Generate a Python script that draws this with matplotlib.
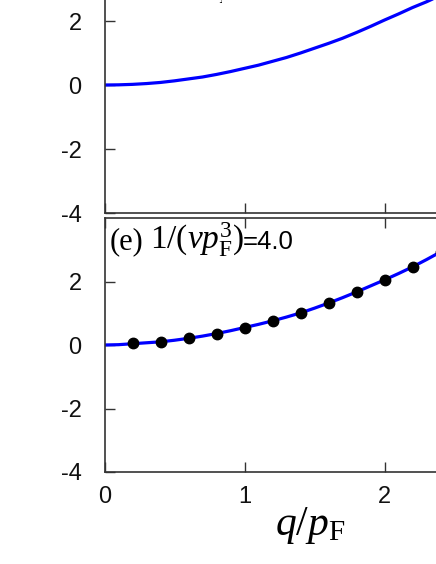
import matplotlib as mpl
mpl.use('Agg')
import matplotlib.pyplot as plt
from matplotlib.transforms import Bbox

mpl.rcParams['mathtext.fontset'] = 'custom'
mpl.rcParams['mathtext.rm'] = 'Liberation Serif'
mpl.rcParams['mathtext.it'] = 'Liberation Serif:italic'
mpl.rcParams['mathtext.sf'] = 'Liberation Sans'
mpl.rcParams['axes.unicode_minus'] = False

# curve q/p_F grid and values
q_line = [0.0, 0.1, 0.2, 0.3, 0.4, 0.5, 0.6, 0.7, 0.8, 0.9, 1.0, 1.1, 1.2,
          1.3, 1.4, 1.5, 1.6, 1.7, 1.8, 1.9, 2.0, 2.1, 2.2, 2.3, 2.4, 2.5]
top_line = [0.0, 0.005, 0.02, 0.045, 0.08, 0.13, 0.19, 0.25, 0.33, 0.42, 0.52,
            0.62, 0.74, 0.86, 1.0, 1.15, 1.30, 1.46, 1.64, 1.83, 2.03, 2.22,
            2.42, 2.60, 2.80, 3.0]
bot_line = [0.0, 0.01, 0.04, 0.07, 0.10, 0.15, 0.21, 0.28, 0.36, 0.45, 0.55,
            0.65, 0.76, 0.88, 1.01, 1.16, 1.32, 1.49, 1.67, 1.86, 2.05, 2.25,
            2.46, 2.69, 2.93, 3.17]

# points in panel (e)
q_pts = [0.2, 0.4, 0.6, 0.8, 1.0, 1.2, 1.4, 1.6, 1.8, 2.0, 2.2, 2.4]
e_pts = [0.05, 0.10, 0.21, 0.36, 0.55, 0.75, 1.00, 1.32, 1.66, 2.05, 2.45, 2.93]

yticks = [-4, -2, 0, 2]
xticks = [0, 1, 2]

W, H = 436, 564
fig = plt.figure(figsize=(W / 100, H / 100), dpi=100)

def px_axes(left, top, width, height):
    return fig.add_axes([left / W, 1 - (top + height) / H, width / W, height / H])

ax_top = px_axes(104.5, 213 - 256, 420, 256)
ax_bot = px_axes(104.5, 218, 420, 254)

for ax in (ax_top, ax_bot):
    ax.set_xlim(0, 3)
    ax.set_ylim(-4, 4)
    ax.set_xticks(xticks)
    ax.set_yticks(yticks)
    ax.tick_params(direction='in', top=True, right=True, length=7, width=1,
                   color='#333333', labelsize=17, labelcolor='#111111')
    ax.tick_params(axis='y', pad=16.5)
    ax.tick_params(axis='x', pad=10)
    for sp in ax.spines.values():
        sp.set_color('#333333')
        sp.set_linewidth(1.2)
    for lab in ax.get_xticklabels() + ax.get_yticklabels():
        lab.set_fontfamily('Liberation Sans')

ax_top.set_xticklabels([])
ax_top.plot(q_line, top_line, color='#0000ff', lw=2.3, solid_capstyle='round')
ax_bot.plot(q_line, bot_line, color='#0000ff', lw=2.3, solid_capstyle='round')
ax_bot.plot(q_pts, e_pts, 'o', color='black', ms=7.5)

def panel_label(ax, tag, val, yb):
    x0 = ax.get_position().x0 * W
    wid = ax.get_position().width * W
    fx = lambda px: (px - x0) / wid
    t1 = ax.text(fx(110), yb, tag, transform=ax.transAxes, fontsize=22,
                 family='Liberation Serif', va='baseline', ha='left')
    t2 = ax.text(fx(150), yb, r'$1/(v p_{\rm F}^{3})$', transform=ax.transAxes,
                 fontsize=24, va='baseline', ha='left')
    t3 = ax.text(fx(243), yb, val, transform=ax.transAxes, fontsize=18.5,
                 family='Liberation Sans', va='baseline', ha='left')
    return t1, t2, t3

panel_label(ax_bot, '(e)', '=4.0', (472 - 249) / 254)

# label of the upper panel: only the foot of its subscript shows in the crop
d_labels = panel_label(ax_top, '(d)', '=2.0', (213 + 4) / 256)
for t in d_labels:
    t.set_clip_box(Bbox.from_extents(210, 0, 222, H))
    t.set_clip_on(True)

fig.text(275 / W, 1 - 535 / H, r'$q/p_{\rm F}$', fontsize=30,
         va='baseline', ha='left')

fig.savefig('out.png', dpi=100)
